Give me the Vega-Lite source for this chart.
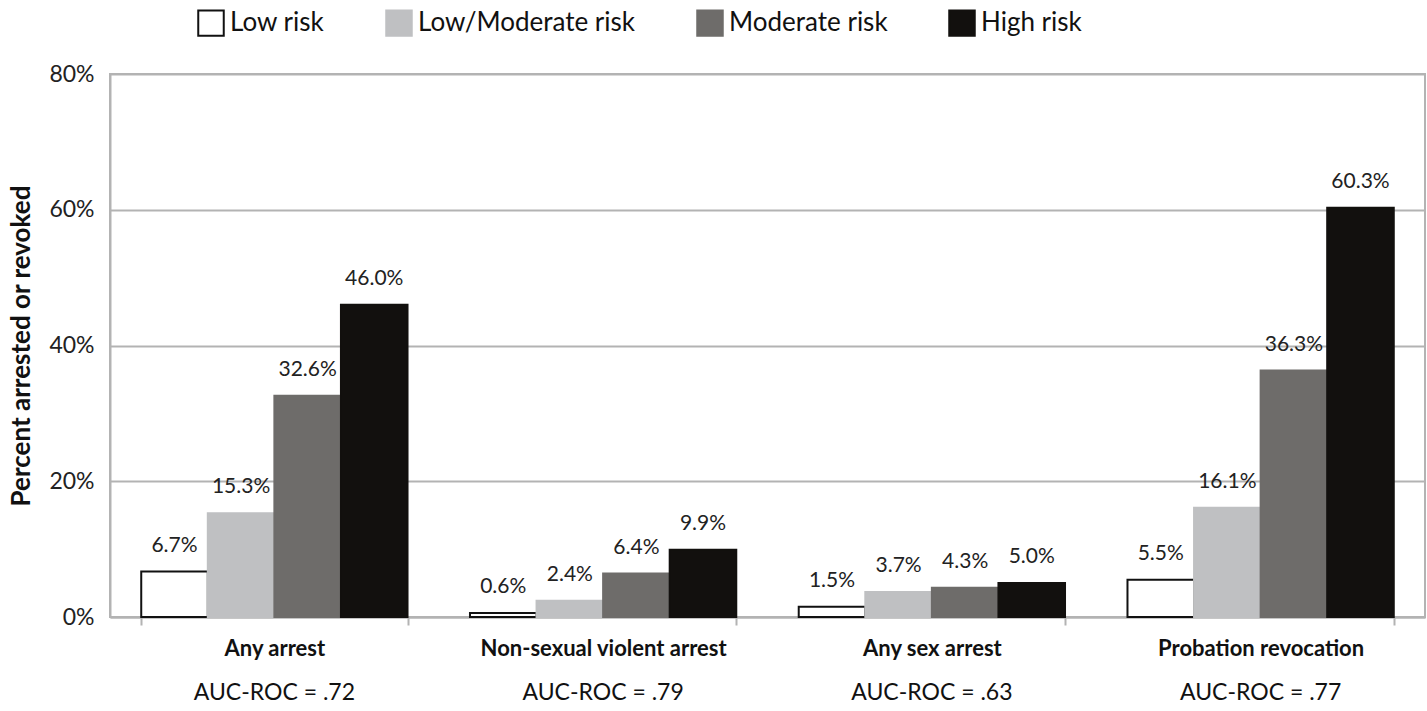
{
  "$schema": "https://vega.github.io/schema/vega-lite/v6.json",
  "autosize": {"type": "none"},
  "width": 1315,
  "height": 543,
  "padding": {"left": 110, "top": 74, "right": 2, "bottom": 94},
  "config": {
    "font": "Lato",
    "view": {"stroke": "#b3b3b3", "strokeWidth": 2},
    "axis": {"labelFont": "Lato", "titleFont": "Lato"}
  },
  "data": {
    "values": [
      {"category": "Any arrest", "risk": "Low risk", "value": 0.067},
      {"category": "Any arrest", "risk": "Low/Moderate risk", "value": 0.153},
      {"category": "Any arrest", "risk": "Moderate risk", "value": 0.326},
      {"category": "Any arrest", "risk": "High risk", "value": 0.46},
      {"category": "Non-sexual violent arrest", "risk": "Low risk", "value": 0.006},
      {"category": "Non-sexual violent arrest", "risk": "Low/Moderate risk", "value": 0.024},
      {"category": "Non-sexual violent arrest", "risk": "Moderate risk", "value": 0.064},
      {"category": "Non-sexual violent arrest", "risk": "High risk", "value": 0.099},
      {"category": "Any sex arrest", "risk": "Low risk", "value": 0.015},
      {"category": "Any sex arrest", "risk": "Low/Moderate risk", "value": 0.037},
      {"category": "Any sex arrest", "risk": "Moderate risk", "value": 0.043},
      {"category": "Any sex arrest", "risk": "High risk", "value": 0.05},
      {"category": "Probation revocation", "risk": "Low risk", "value": 0.055},
      {"category": "Probation revocation", "risk": "Low/Moderate risk", "value": 0.161},
      {"category": "Probation revocation", "risk": "Moderate risk", "value": 0.363},
      {"category": "Probation revocation", "risk": "High risk", "value": 0.603}
    ]
  },
  "encoding": {
    "x": {
      "field": "category",
      "type": "nominal",
      "sort": null,
      "scale": {"paddingInner": 0.19, "paddingOuter": 0.095}
    },
    "xOffset": {
      "field": "risk",
      "type": "nominal",
      "sort": ["Low risk", "Low/Moderate risk", "Moderate risk", "High risk"],
      "scale": {"paddingInner": 0, "paddingOuter": 0}
    },
    "y": {
      "field": "value",
      "type": "quantitative",
      "scale": {"domain": [0, 0.8]},
      "axis": {
        "title": "Percent arrested or revoked",
        "titleFontSize": 26,
        "titleFontWeight": "bold",
        "titleColor": "#111",
        "titlePadding": 14,
        "format": "%",
        "values": [0, 0.2, 0.4, 0.6, 0.8],
        "labelFontSize": 23,
        "labelColor": "#222",
        "labelPadding": 16,
        "ticks": false,
        "domainColor": "#b3b3b3",
        "domainWidth": 2,
        "gridColor": "#b3b3b3",
        "gridWidth": 2
      }
    }
  },
  "layer": [
    {
      "mark": {"type": "bar", "strokeWidth": 2},
      "encoding": {
        "x": {
          "field": "category",
          "type": "nominal",
          "sort": null,
          "axis": {
            "orient": "bottom",
            "title": null,
            "labelAngle": 0,
            "labelFontSize": 22,
            "labelFontWeight": "bold",
            "labelColor": "#111",
            "labelPadding": 13,
            "labelLimit": 400,
            "tickBand": "extent",
            "tickSize": 8,
            "tickColor": "#b3b3b3",
            "tickWidth": 2,
            "domainColor": "#b3b3b3",
            "domainWidth": 2
          }
        },
        "color": {
          "field": "risk",
          "type": "nominal",
          "sort": ["Low risk", "Low/Moderate risk", "Moderate risk", "High risk"],
          "scale": {
            "domain": ["Low risk", "Low/Moderate risk", "Moderate risk", "High risk"],
            "range": ["#ffffff", "#bfc0c2", "#6e6c6a", "#12100e"]
          },
          "legend": {
            "title": null,
            "orient": "none",
            "direction": "horizontal",
            "legendX": 87,
            "legendY": -65,
            "symbolType": "square",
            "symbolSize": 650,
            "symbolStrokeWidth": 2,
            "symbolOpacity": 1,
            "labelFontSize": 26,
            "labelColor": "#111",
            "labelOffset": 5,
            "columnPadding": 57,
            "labelLimit": 400
          }
        },
        "stroke": {
          "field": "risk",
          "type": "nominal",
          "sort": ["Low risk", "Low/Moderate risk", "Moderate risk", "High risk"],
          "scale": {
            "domain": ["Low risk", "Low/Moderate risk", "Moderate risk", "High risk"],
            "range": ["#111111", "#bfc0c2", "#6e6c6a", "#12100e"]
          },
          "legend": null
        }
      }
    },
    {
      "mark": {"type": "text", "baseline": "bottom", "dy": -16, "fontSize": 21, "color": "#222"},
      "encoding": {
        "x": {
          "field": "category",
          "type": "nominal",
          "sort": null,
          "axis": {
            "orient": "bottom",
            "title": null,
            "labelAngle": 0,
            "labelFontSize": 23,
            "labelColor": "#111",
            "labelPadding": 64,
            "labelLimit": 400,
            "ticks": false,
            "domain": false,
            "grid": false,
            "labelExpr": "datum.value == 'Any arrest' ? 'AUC-ROC = .72' : datum.value == 'Non-sexual violent arrest' ? 'AUC-ROC = .79' : datum.value == 'Any sex arrest' ? 'AUC-ROC = .63' : 'AUC-ROC = .77'"
          }
        },
        "text": {"field": "value", "type": "quantitative", "format": ".1%"}
      }
    }
  ],
  "resolve": {"axis": {"x": "independent"}}
}
